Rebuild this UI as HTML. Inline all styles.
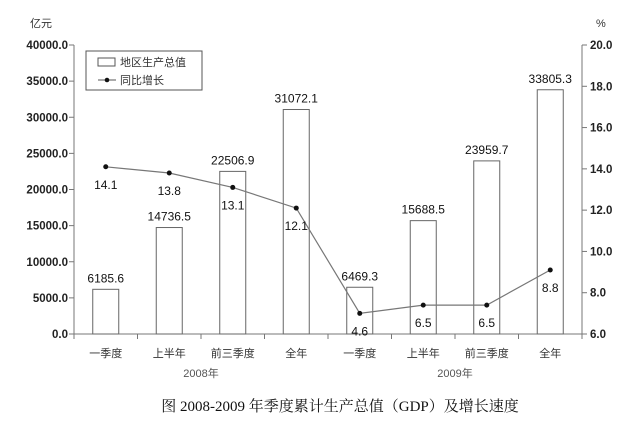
<!DOCTYPE html>
<html><head><meta charset="utf-8"><style>
body{margin:0;background:#fff;}
svg text{font-family:"Liberation Sans","Noto Sans CJK SC",sans-serif;}
</style></head><body>
<svg width="632" height="423" viewBox="0 0 632 423" id="chart">
<g id="axes"></g><g id="marks"></g>
</svg>
<script>
const categories=["一季度","上半年","前三季度","全年","一季度","上半年","前三季度","全年"];
const gdpValues=[6185.6,14736.5,22506.9,31072.1,6469.3,15688.5,23959.7,33805.3];
const growthPlotted=[14.1,13.8,13.1,12.1,7.0,7.4,7.4,9.1];
const growthLabels=["14.1","13.8","13.1","12.1","4.6","6.5","6.5","8.8"];
const leftTicks=[0,5000,10000,15000,20000,25000,30000,35000,40000];
const rightTicks=[6,8,10,12,14,16,18,20];
const NS="http://www.w3.org/2000/svg";
const svg=document.getElementById('chart');
const X0=74,X1=582,Y0=334,Y1=45;
const step=(X1-X0)/categories.length;
const xc=i=>X0+step*(i+0.5);
const yL=v=>Y0-(v/40000)*(Y0-Y1);
const yR=v=>Y0-((v-6)/14)*(Y0-Y1);
function mk(tag,attrs,parent,txt){const e=document.createElementNS(NS,tag);for(const k in attrs)e.setAttribute(k,attrs[k]);if(txt!==undefined)e.textContent=txt;(parent||svg).appendChild(e);return e;}
const ax=document.getElementById('axes'),mg=document.getElementById('marks');
let e;
e=mk('line',{x1:X0,y1:Y1,x2:X0,y2:Y0,stroke:'#777'},ax);

e=mk('line',{x1:X1,y1:Y1,x2:X1,y2:Y0,stroke:'#777'},ax);

e=mk('line',{x1:X0,y1:Y0,x2:X1,y2:Y0,stroke:'#777'},ax);

leftTicks.forEach(v=>{const y=yL(v);mk('line',{x1:X0-5,y1:y,x2:X0,y2:y,stroke:'#777'},ax);
e=mk('text',{x:68,y:y+4,'text-anchor':'end','font-size':11.5,'font-weight':'bold',fill:'#222'},ax,v.toFixed(1));
});
rightTicks.forEach(v=>{const y=yR(v);mk('line',{x1:X1,y1:y,x2:X1+5,y2:y,stroke:'#777'},ax);
e=mk('text',{x:590,y:y+4,'font-size':11.5,'font-weight':'bold',fill:'#222'},ax,v.toFixed(1));
});
for(let i=0;i<=categories.length;i++){mk('line',{x1:X0+step*i,y1:Y0,x2:X0+step*i,y2:Y0+5,stroke:'#777'},ax);}
categories.forEach((c,i)=>{e=mk('text',{x:xc(i),y:357,'text-anchor':'middle','font-size':11,fill:'#333'},ax,c);
});
e=mk('text',{x:X0+step*2,y:377,'text-anchor':'middle','font-size':11,fill:'#555'},ax,'2008年');

e=mk('text',{x:X0+step*6,y:377,'text-anchor':'middle','font-size':11,fill:'#555'},ax,'2009年');

e=mk('text',{x:30,y:27,'font-size':11,fill:'#333'},ax,'亿元');

e=mk('text',{x:596,y:27,'font-size':11,fill:'#333'},ax,'%');

gdpValues.forEach((v,i)=>{const bw=26;
e=mk('rect',{x:xc(i)-bw/2,y:yL(v),width:bw,height:Y0-yL(v),fill:'#fff',stroke:'#666'},mg);

e=mk('text',{x:xc(i),y:yL(v)-7,'text-anchor':'middle','font-size':12,fill:'#111'},mg,v.toFixed(1));
});
e=mk('polyline',{points:growthPlotted.map((v,i)=>xc(i)+','+yR(v)).join(' '),fill:'none',stroke:'#777','stroke-width':1.2},mg);

growthPlotted.forEach((v,i)=>{e=mk('circle',{cx:xc(i),cy:yR(v),r:2.5,fill:'#111'},mg);

e=mk('text',{x:xc(i),y:yR(v)+22,'text-anchor':'middle','font-size':12,fill:'#111'},mg,growthLabels[i]);
});
const lg=mk('g',{},svg);
mk('rect',{x:86,y:51,width:116,height:39,fill:'#fff',stroke:'#555'},lg);
mk('rect',{x:98,y:58,width:17,height:8,fill:'#fff',stroke:'#555'},lg);
mk('text',{x:120,y:66,'font-size':11,fill:'#333'},lg,'地区生产总值');
mk('line',{x1:98,y1:80,x2:116,y2:80,stroke:'#555'},lg);
mk('circle',{cx:107,cy:80,r:2.3,fill:'#111'},lg);
mk('text',{x:120,y:84,'font-size':11,fill:'#333'},lg,'同比增长');
e=mk('text',{x:340,y:411,'text-anchor':'middle','font-size':15,fill:'#111',style:'font-family:"Liberation Serif","Noto Serif CJK SC",serif'},svg,'图 2008-2009 年季度累计生产总值（GDP）及增长速度');

</script>
</body></html>
